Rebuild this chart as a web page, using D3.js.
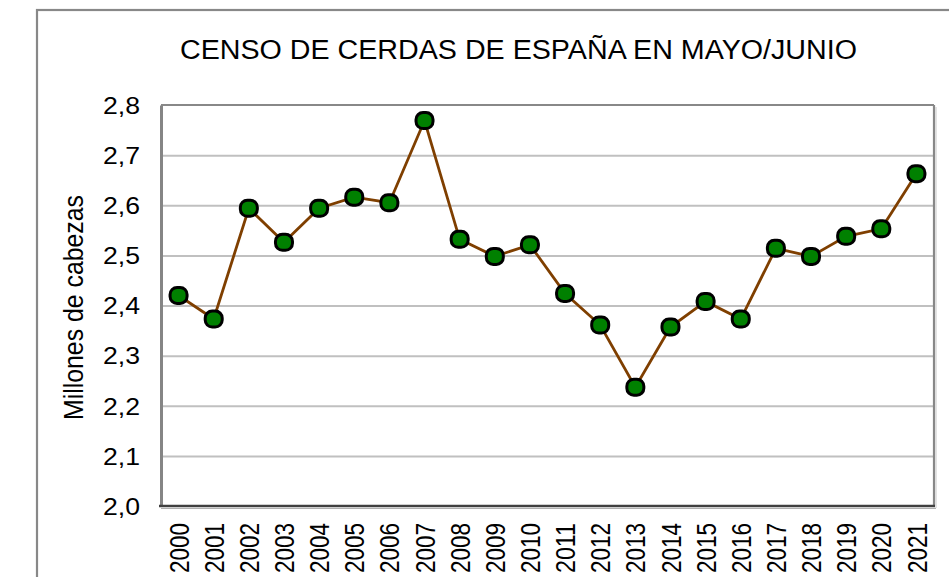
<!DOCTYPE html>
<html>
<head>
<meta charset="utf-8">
<script src="https://cdn.jsdelivr.net/npm/d3@7"></script>
<style>
  html, body { margin: 0; padding: 0; background: #fff; }
  svg { display: block; font-family: "Liberation Sans", Arial, sans-serif; }
</style>
</head>
<body>
<svg id="chart" width="949" height="577"></svg>
<script>
const years = ["2000","2001","2002","2003","2004","2005","2006","2007","2008","2009","2010",
               "2011","2012","2013","2014","2015","2016","2017","2018","2019","2020","2021"];
const values = [2.420, 2.373, 2.594, 2.526, 2.594, 2.616, 2.605, 2.769, 2.532, 2.498, 2.521,
                2.424, 2.361, 2.237, 2.357, 2.408, 2.373, 2.514, 2.498, 2.538, 2.553, 2.663];
const yTicks = [2.0, 2.1, 2.2, 2.3, 2.4, 2.5, 2.6, 2.7, 2.8];
const yTickLabels = ["2,0","2,1","2,2","2,3","2,4","2,5","2,6","2,7","2,8"];
const title = "CENSO DE CERDAS DE ESPAÑA EN MAYO/JUNIO";
const yTitle = "Millones de cabezas";

const svg = d3.select("#chart");
const L = 161, R = 934, T = 105, B = 506;

const x = d3.scalePoint().domain(years).range([L, R]).padding(0.5);
const y = d3.scaleLinear().domain([2.0, 2.8]).range([B, T]);

// outer border
svg.append("rect").attr("x", 37).attr("y", 10).attr("width", 960).attr("height", 620)
  .attr("fill", "#fff").attr("stroke", "#888").attr("stroke-width", 2.2);

// title
svg.append("text").attr("x", 518.5).attr("y", 59).attr("text-anchor", "middle")
  .attr("font-size", 27).attr("textLength", 677).attr("lengthAdjust", "spacingAndGlyphs")
  .attr("fill", "#000").text(title);

// gridlines
const grid = svg.append("g").attr("transform", `translate(${L},0)`)
  .call(d3.axisLeft(y).tickValues(yTicks.slice(1, -1)).tickSize(-(R - L)).tickFormat(""));
grid.select(".domain").remove();
grid.selectAll(".tick line").attr("stroke", "#c0c0c0").attr("stroke-width", 2);

// plot frame
svg.append("line").attr("x1", L).attr("x2", R).attr("y1", T).attr("y2", T)
  .attr("stroke", "#888").attr("stroke-width", 2.2);
svg.append("line").attr("x1", R).attr("x2", R).attr("y1", T).attr("y2", B)
  .attr("stroke", "#888").attr("stroke-width", 2.2);
svg.append("line").attr("x1", R + 2).attr("x2", R + 2).attr("y1", T + 2).attr("y2", B + 2)
  .attr("stroke", "#d0d0d0").attr("stroke-width", 1.2);

// y axis
const yAxis = svg.append("g").attr("transform", `translate(${L},0)`)
  .call(d3.axisLeft(y).tickValues(yTicks).tickSize(0).tickPadding(21)
    .tickFormat((d, i) => yTickLabels[i]));
yAxis.select(".domain").attr("stroke", "#858585").attr("stroke-width", 3);
yAxis.selectAll(".tick text").attr("font-size", 23).attr("fill", "#000")
  .attr("font-family", "Liberation Sans, Arial, sans-serif")
  .attr("textLength", 37).attr("lengthAdjust", "spacingAndGlyphs").attr("dy", "0.36em");

// x axis
const xAxis = svg.append("g").attr("transform", `translate(0,${B})`)
  .call(d3.axisBottom(x).tickSize(0).tickFormat(""));
xAxis.select(".domain").attr("stroke", "#404040").attr("stroke-width", 2.5)
  .attr("d", `M${L - 2},0H${R + 1}`);
svg.append("line").attr("x1", L).attr("x2", R + 2).attr("y1", B + 2.5).attr("y2", B + 2.5)
  .attr("stroke", "#b0b0b0").attr("stroke-width", 1.2);

svg.append("g").selectAll("text").data(years).join("text")
  .attr("transform", d => `translate(${x(d)},523) rotate(-90)`)
  .attr("text-anchor", "end").attr("dy", "0.36em")
  .attr("font-size", 28).attr("textLength", 50).attr("lengthAdjust", "spacingAndGlyphs")
  .attr("fill", "#000").text(d => d);

// y title
svg.append("text").attr("transform", "translate(82.5,307.5) rotate(-90)")
  .attr("text-anchor", "middle").attr("font-size", 27)
  .attr("textLength", 225).attr("lengthAdjust", "spacingAndGlyphs")
  .attr("fill", "#000").text(yTitle);

// line
const line = d3.line().x((d, i) => x(years[i])).y(d => y(d));
svg.append("path").datum(values).attr("d", line)
  .attr("fill", "none").attr("stroke", "#7f3f00").attr("stroke-width", 2.8);

// markers
const mw = 17, mh = 16;
svg.append("g").selectAll("rect").data(values).join("rect")
  .attr("x", (d, i) => x(years[i]) - mw / 2)
  .attr("y", d => y(d) - mh / 2)
  .attr("width", mw).attr("height", mh).attr("rx", 7).attr("ry", 7)
  .attr("fill", "#008000").attr("stroke", "#000").attr("stroke-width", 3);
</script>
</body>
</html>
